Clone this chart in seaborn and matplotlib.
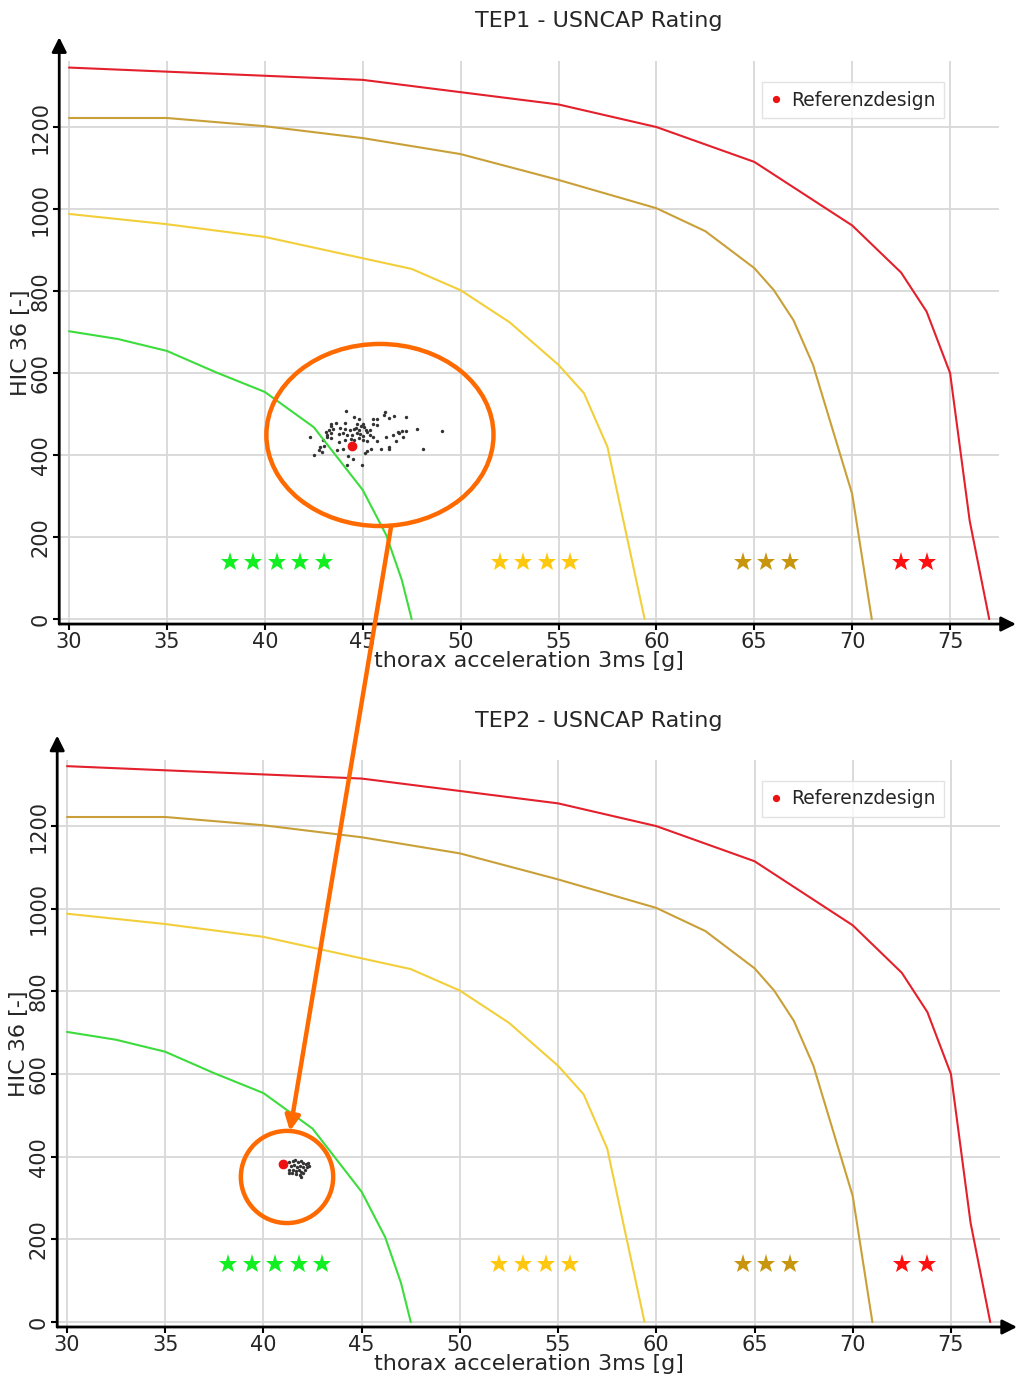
import numpy as np
import pandas as pd
import matplotlib
matplotlib.use("Agg")
import matplotlib.pyplot as plt
import seaborn as sns
from matplotlib.patches import Ellipse, ConnectionPatch

# rating limit curves (thorax acceleration [g], HIC 36 [-])
red_x = [30, 35, 40, 45, 50, 55, 60, 65, 70, 72.5, 73.8, 75, 76, 77]
red_y = [1345, 1335, 1325, 1315, 1285, 1255, 1200, 1115, 960, 845, 750, 600, 240, 0]
gold_x = [30, 35, 40, 45, 50, 55, 60, 62.5, 65, 66, 67, 68, 70, 71]
gold_y = [1222, 1222, 1202, 1173, 1134, 1071, 1002, 946, 856, 802, 729, 620, 305, 0]
yellow_x = [30, 35, 40, 45, 47.5, 50, 52.5, 55, 56.3, 57.5, 59.4]
yellow_y = [988, 963, 932, 880, 854, 802, 724, 620, 551, 420, 0]
green_x = [30, 32.5, 35, 37.5, 40, 42.5, 45, 46.2, 47.0, 47.5]
green_y = [702, 683, 654, 602, 554, 468, 315, 205, 95, 0]

# star rating markers
star_y = 140
stars5_x = [38.2, 39.4, 40.6, 41.8, 43.0]
stars4_x = [52.0, 53.2, 54.4, 55.6]
stars3_x = [64.4, 65.6, 66.8]
stars2_x = [72.5, 73.8]

# design samples TEP1
tep1_x = [44.15, 44.53, 44.80, 45.51, 45.75, 46.16, 46.36, 46.60, 47.21, 46.09,
          43.37, 43.64, 44.08, 43.40, 44.70, 44.90, 45.00, 45.55, 45.72, 43.10,
          43.27, 43.47, 43.85, 44.10, 44.36, 44.58, 44.66, 44.80, 45.07, 45.17,
          45.24, 45.38, 43.16, 43.37, 43.78, 43.98, 44.22, 44.46, 44.70, 44.87,
          45.04, 45.38, 42.31, 42.96, 43.16, 43.40, 43.81, 44.08, 44.39, 44.56,
          44.83, 45.04, 45.21, 45.51, 45.75, 46.57, 46.81, 46.87, 46.99, 47.21,
          47.76, 49.04, 47.08, 46.70, 46.19, 42.82, 43.03, 42.76, 42.91, 42.52,
          43.71, 43.98, 45.14, 45.24, 45.44, 45.92, 46.33, 46.36, 48.10, 44.25,
          44.49, 44.22, 44.97]
tep1_y = [507, 492, 489, 487, 487, 504, 491, 496, 494, 498,
          475, 479, 479, 472, 476, 472, 477, 475, 473, 457,
          461, 463, 465, 463, 461, 463, 465, 461, 468, 461,
          457, 461, 448, 453, 451, 453, 449, 449, 453, 451,
          446, 449, 443, 438, 443, 441, 432, 437, 440, 437,
          441, 438, 435, 443, 435, 449, 457, 453, 459, 459,
          463, 458, 443, 435, 445, 420, 422, 412, 408, 400,
          412, 416, 406, 411, 414, 414, 419, 416, 416, 398,
          391, 375, 377]
tep1_ref = (44.45, 422)

# design samples TEP2
tep2_x = [41.32, 41.49, 41.63, 41.78, 41.90, 42.00, 42.17, 42.29, 41.39, 41.56,
          41.69, 41.86, 42.03, 42.24, 41.32, 41.49, 41.66, 41.80, 41.93, 42.10,
          41.29, 41.46, 41.66, 41.86, 42.03, 41.90, 42.30]
tep2_y = [388, 390, 392, 388, 390, 384, 382, 385, 377, 380,
          376, 377, 376, 374, 368, 369, 366, 369, 364, 368,
          360, 361, 358, 356, 360, 352, 377]
tep2_ref = (41.01, 382)

titles = ["TEP1 - USNCAP Rating", "TEP2 - USNCAP Rating"]

RED, GOLD, YELLOW, GREEN = "#e3202b", "#c9a038", "#f2cf3a", "#3ddc3d"
STAR_COLORS = ["#11ee22", "#ffc810", "#c8960e", "#ff1010"]
ORANGE = "#ff6a00"

sns.set_style("white")
plt.rcParams["font.family"] = ["DejaVu Sans"]

fig = plt.figure(figsize=(10.16, 13.8), dpi=100)
ax1 = fig.add_axes([0.0583, 0.5478, 0.925, 0.4077])
ax2 = fig.add_axes([0.0563, 0.0384, 0.928, 0.4109])

samples = [(tep1_x, tep1_y, tep1_ref), (tep2_x, tep2_y, tep2_ref)]

for ax, title, (sx, sy, ref) in zip([ax1, ax2], titles, samples):
    for cx, cy, col in [(red_x, red_y, RED), (gold_x, gold_y, GOLD),
                        (yellow_x, yellow_y, YELLOW), (green_x, green_y, GREEN)]:
        sns.lineplot(x=cx, y=cy, ax=ax, color=col, lw=1.5, sort=False,
                     estimator=None, legend=False)
    for xs, col in zip([stars5_x, stars4_x, stars3_x, stars2_x], STAR_COLORS):
        ax.plot(xs, [star_y] * len(xs), ls="none", marker="*",
                markersize=14, color=col, markeredgewidth=0)
    sns.scatterplot(x=sx, y=sy, ax=ax, color="#333333", s=6, linewidth=0,
                    legend=False)
    ax.plot([ref[0]], [ref[1]], ls="none", marker="o", markersize=6,
            color="#ee1111", label="Referenzdesign")

    ax.set_xlim(29.5, 77.5)
    ax.set_ylim(-12, 1360)
    ax.set_xticks([30, 35, 40, 45, 50, 55, 60, 65, 70, 75])
    ax.set_yticks([0, 200, 400, 600, 800, 1000, 1200])
    ax.grid(True, color="#d8d8d8", lw=1.3)
    ax.set_axisbelow(True)
    for s in ax.spines.values():
        s.set_visible(False)
    ax.tick_params(axis="both", labelsize=15, length=4, width=1.5, color="k",
                   pad=2, left=True, bottom=True)
    for lbl in ax.get_yticklabels():
        lbl.set_rotation(90)
        lbl.set_va("center")
    ax.set_xlabel("thorax acceleration 3ms [g]", fontsize=16, labelpad=-1)
    ax.set_ylabel("HIC 36 [-]", fontsize=16, labelpad=0)

    # axis lines with arrow heads
    ax.annotate("", xy=(1.018, 0), xytext=(0, 0), xycoords="axes fraction",
                arrowprops=dict(arrowstyle="-|>", lw=2, color="k",
                                mutation_scale=22, shrinkA=0, shrinkB=0))
    ax.annotate("", xy=(0, 1.043), xytext=(0, 0), xycoords="axes fraction",
                arrowprops=dict(arrowstyle="-|>", lw=2, color="k",
                                mutation_scale=22, shrinkA=0, shrinkB=0))

    leg = ax.legend(loc="upper right", bbox_to_anchor=(0.941, 0.963),
                    borderaxespad=0, fontsize=13.5, frameon=True,
                    fancybox=False, handlelength=0.6, handletextpad=0.5,
                    borderpad=0.45, markerscale=0.7)
    leg.get_frame().set_edgecolor("#dddddd")
    leg.get_frame().set_linewidth(1)

fig.text(0.589, 0.985, titles[0], fontsize=16, ha="center", va="center")
fig.text(0.589, 0.4775, titles[1], fontsize=16, ha="center", va="center")

# orange highlight of the design clouds
ax1.add_patch(Ellipse((45.88, 449), 11.6, 444, fill=False, ec=ORANGE, lw=3.2,
                      zorder=5))
ax2.add_patch(Ellipse((41.2, 351), 4.7, 223, fill=False, ec=ORANGE, lw=3.2,
                      zorder=5))
con = ConnectionPatch(xyA=(46.45, 226), coordsA=ax1.transData,
                      xyB=(41.35, 462), coordsB=ax2.transData,
                      arrowstyle="-|>", color=ORANGE, lw=3.2,
                      mutation_scale=22, shrinkA=0, shrinkB=0, zorder=6)
fig.add_artist(con)

fig.savefig("out.png", dpi=100)
